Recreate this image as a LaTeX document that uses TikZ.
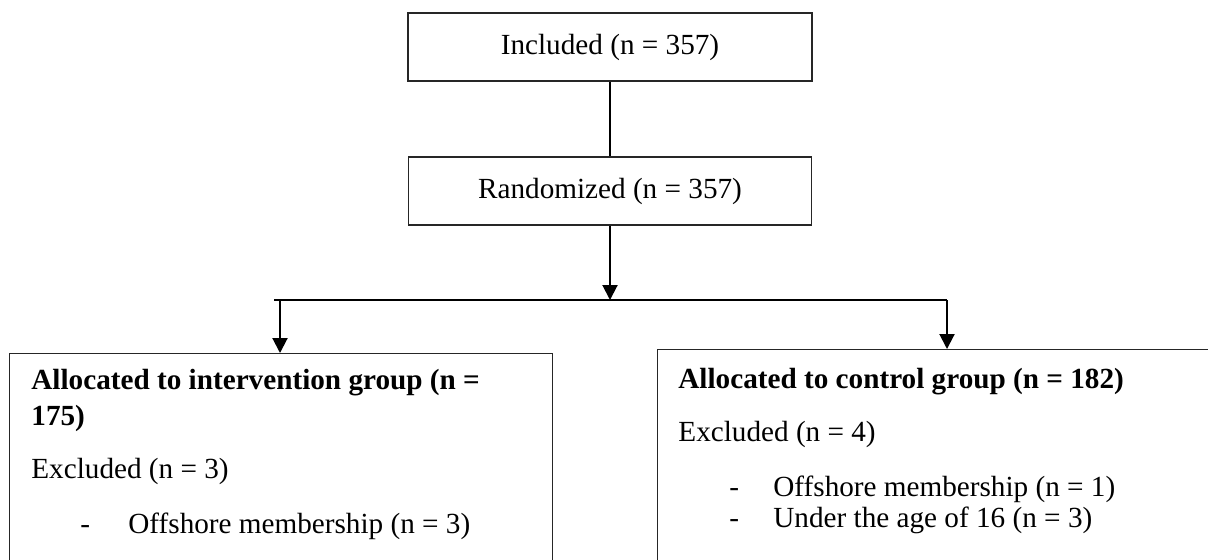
\documentclass[tikz,border=0pt]{standalone}
\usepackage{fontspec}
\setmainfont{Liberation Serif}
\usepackage{tikz}
\usetikzlibrary{arrows.meta}

\tikzset{
    box/.style={draw=black!85, line width=0.6pt, rectangle, inner sep=0pt},
    txt/.style={anchor=base west, inner sep=0pt},
    arr/.style={-{Triangle[width=7.5pt,length=7.5pt]}, line width=1pt},
    link/.style={line width=1pt},
    hline/.style={line width=0.6pt}
}

\begin{document}
\begin{tikzpicture}[x=0.5pt, y=-0.5pt, font=\fontsize{14.6}{18}\selectfont]
    \useasboundingbox (0,0) rectangle (1208,559);
    \clip (0,0) rectangle (1208,559);

    \node[box, minimum width=202pt, minimum height=34pt] (incl) at (610,47) {Included (n = 357)};
    \node[box, minimum width=201.5pt, minimum height=34pt] (rand) at (610,191) {Randomized (n = 357)};

    \node[box, anchor=north west, minimum width=271.5pt, minimum height=130pt] (interv) at (9,353) {};
    \node[box, anchor=north west, minimum width=300pt, minimum height=130pt] (control) at (657,349) {};

    \coordinate (split) at (610,300);
    \coordinate (lend) at (274,300);
    \coordinate (ltop) at (280,300);
    \coordinate (rtop) at (947,300);

    % intervention arm
    \node[txt] (alloc1) at (31,389) {\textbf{Allocated to intervention group (n =}};
    \node[txt] (alloc1b) at (31,425) {\textbf{175)}};
    \node[txt] (excl1) at (31,478) {Excluded (n = 3)};
    \node[txt] (dash1) at (80,533) {-};
    \node[txt] (off1) at (128,533) {Offshore membership (n = 3)};

    % control arm
    \node[txt] (alloc2) at (678,388) {\textbf{Allocated to control group (n = 182)}};
    \node[txt] (excl2) at (678,441) {Excluded (n = 4)};
    \node[txt] (dash2) at (729,496) {-};
    \node[txt] (off2) at (773,496) {Offshore membership (n = 1)};
    \node[txt] (dash3) at (729,527) {-};
    \node[txt] (age2) at (773,527) {Under the age of 16 (n = 3)};

    \draw[link] (incl.south) -- (rand.north);
    \draw[arr] (rand.south) -- (split);
    \draw[hline] (lend) -- (rtop);
    \draw[arr] (ltop) -- (ltop |- interv.north);
    \draw[arr] (rtop) -- (rtop |- control.north);
\end{tikzpicture}
\end{document}
